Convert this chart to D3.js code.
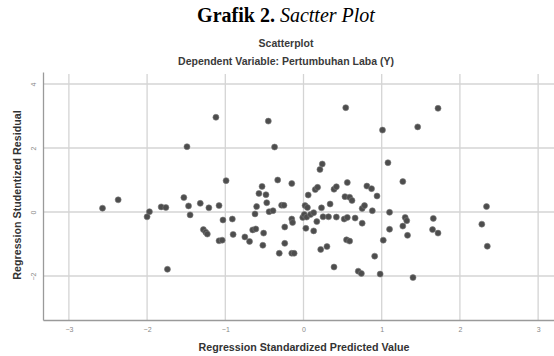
<!DOCTYPE html>
<html>
<head>
<meta charset="utf-8">
<script src="https://cdn.jsdelivr.net/npm/d3@7"></script>
<style>
    body { margin: 0; background: #fff; }
    svg { display: block; }
</style>
</head>
<body>
<div id="root"></div>
<script>
// Regression Standardized Predicted Value (x) and Studentized Residual (y)
const predicted = [
    -2.57, -2.37, -1.97, -2.00, -1.82, -1.76, -1.74, -1.53, -1.47, -1.45,
    -1.49, -1.32, -1.21, -1.12, -1.08, -0.99, -1.03, -0.91, -1.28, -1.25,
    -1.23, -1.08, -1.04, -0.90, -0.75, -0.69, -0.65, -0.61, -0.51, -0.52,
    -0.62, -0.60, -0.47, -0.44, -0.39, -0.57, -0.48, -0.53, -0.45, -0.37,
    -0.33, -0.15, -0.28, -0.25, -0.24, -0.15, -0.14, -0.24, -0.31, -0.15,
    -0.12, -0.01, 0.01, 0.04, 0.09, 0.13, 0.02, 0.05, 0.06, 0.15,
    0.18, 0.21, 0.24, 0.39, 0.42, 0.56, 0.54, 0.53, 0.59, 0.62,
    0.81, 0.87, 0.94, 0.34, 0.23, 0.75, 0.78, 0.88, 1.10, 0.17,
    0.25, 0.32, 0.42, 0.52, 0.56, 0.66, 0.75, 0.03, 0.13, 1.10,
    1.27, 1.30, 1.32, 1.33, 0.55, 0.59, 1.02, 0.22, 0.30, 0.91,
    0.39, 0.70, 0.74, 0.98, 1.40, 1.01, 1.08, 1.27, 1.46, 1.72,
    1.66, 1.65, 1.72, 2.34, 2.28, 2.35
];
const residual = [
    0.12, 0.38, 0.01, -0.15, 0.16, 0.14, -1.79, 0.45, 0.19, -0.09,
    2.04, 0.27, 0.13, 2.96, 0.20, 0.98, -0.25, -0.22, -0.55, -0.63,
    -0.69, -0.90, -0.88, -0.70, -0.78, -0.92, -0.56, -0.53, -0.66, -1.04,
    -0.06, 0.17, 0.29, 0.01, 0.04, 0.58, 0.54, 0.80, 2.84, 2.03,
    1.00, 0.89, 0.21, 0.21, -0.47, -0.22, -0.33, -0.98, -1.29, -1.29,
    -1.29, -0.17, -0.08, -0.16, -0.08, -0.02, 0.20, 0.14, 0.53, 0.70,
    0.77, 1.33, 1.50, 0.71, 0.79, 0.92, 3.26, 0.48, 0.46, 0.36,
    0.81, 0.73, 0.50, 0.25, 0.13, 0.11, 0.20, 0.04, -0.01, -0.30,
    -0.15, -0.15, -0.16, -0.22, -0.17, -0.19, -0.35, -0.51, -0.59, -0.54,
    -0.44, -0.17, -0.27, -0.73, -0.87, -0.91, -0.88, -1.17, -1.08, -1.38,
    -1.72, -1.85, -1.92, -1.94, -2.05, 2.56, 1.54, 0.95, 2.66, 3.24,
    -0.20, -0.55, -0.66, 0.17, -0.38, -1.07
];
const xTicks = [-3, -2, -1, 0, 1, 2, 3];
const yTicks = [-2, 0, 2, 4];

const width = 554;
const height = 356;

const svg = d3.select("#root").append("svg")
    .attr("width", width)
    .attr("height", height);

// plot frame
const plotLeft = 43, plotRight = 554, plotTop = 72, plotBottom = 320;
const sans = "'Liberation Sans', Arial, sans-serif";

const x = d3.scaleLinear().domain([-3.331, 3.203]).range([plotLeft, plotRight]);
const y = d3.scaleLinear().domain([-3.375, 4.375]).range([plotBottom, plotTop]);

// figure caption
const caption = svg.append("text")
    .attr("x", 286)
    .attr("y", 22)
    .attr("text-anchor", "middle")
    .attr("font-family", "'Liberation Serif', serif")
    .attr("font-size", 20)
    .attr("fill", "#000");
caption.append("tspan").attr("font-weight", "bold").text("Grafik 2. ");
caption.append("tspan").attr("font-style", "italic").text("Sactter Plot");

svg.append("text")
    .attr("x", 286)
    .attr("y", 46.5)
    .attr("text-anchor", "middle")
    .attr("font-family", sans)
    .attr("font-size", 10.5)
    .attr("font-weight", "bold")
    .attr("fill", "#3a3a3a")
    .text("Scatterplot");

svg.append("text")
    .attr("x", 286)
    .attr("y", 65)
    .attr("text-anchor", "middle")
    .attr("font-family", sans)
    .attr("font-size", 10.5)
    .attr("font-weight", "bold")
    .attr("fill", "#3a3a3a")
    .text("Dependent Variable: Pertumbuhan Laba (Y)");

// gridlines
const grid = svg.append("g").attr("class", "grid")
    .attr("stroke", "#d4d4d4")
    .attr("stroke-width", 1.3);

grid.selectAll("line.v")
    .data(xTicks)
    .enter().append("line")
    .attr("class", "v")
    .attr("x1", d => x(d)).attr("x2", d => x(d))
    .attr("y1", plotTop + 2).attr("y2", plotBottom);

grid.selectAll("line.h")
    .data(yTicks)
    .enter().append("line")
    .attr("class", "h")
    .attr("x1", plotLeft).attr("x2", plotRight)
    .attr("y1", d => y(d)).attr("y2", d => y(d));

// axes
const xAxis = svg.append("g")
    .attr("transform", `translate(0,${plotBottom})`)
    .call(d3.axisBottom(x).tickValues(xTicks).tickSize(0).tickPadding(7).tickFormat(d3.format("d")));

const yAxis = svg.append("g")
    .attr("transform", `translate(${plotLeft},0)`)
    .call(d3.axisLeft(y).tickValues(yTicks).tickSize(0).tickPadding(6).tickFormat(d3.format("d")));

[xAxis, yAxis].forEach(g => {
    g.select(".domain").attr("stroke", "#9a9a9a").attr("stroke-width", 1.3);
    g.selectAll("text")
        .attr("font-family", sans)
        .attr("font-size", 7)
        .attr("fill", "#888");
});

// SPSS turns the vertical axis labels on their side
yAxis.selectAll(".tick text")
    .attr("x", -7)
    .attr("dy", 0)
    .attr("text-anchor", "middle")
    .attr("transform", "rotate(-90,-7,0)");

// points
svg.append("g").attr("class", "points")
    .selectAll("circle")
    .data(predicted)
    .enter().append("circle")
    .attr("cx", d => x(d))
    .attr("cy", (d, i) => y(residual[i]))
    .attr("r", 3)
    .attr("fill", "#4d4d4d")
    .attr("stroke", "#7a7a7a")
    .attr("stroke-width", 0.6);

// axis titles
svg.append("text")
    .attr("x", 304)
    .attr("y", 351)
    .attr("text-anchor", "middle")
    .attr("font-family", sans)
    .attr("font-size", 10.7)
    .attr("font-weight", "bold")
    .attr("fill", "#333")
    .text("Regression Standardized Predicted Value");

svg.append("text")
    .attr("transform", "translate(20.5,195) rotate(-90)")
    .attr("text-anchor", "middle")
    .attr("font-family", sans)
    .attr("font-size", 10.7)
    .attr("font-weight", "bold")
    .attr("fill", "#333")
    .text("Regression Studentized Residual");
</script>
</body>
</html>
